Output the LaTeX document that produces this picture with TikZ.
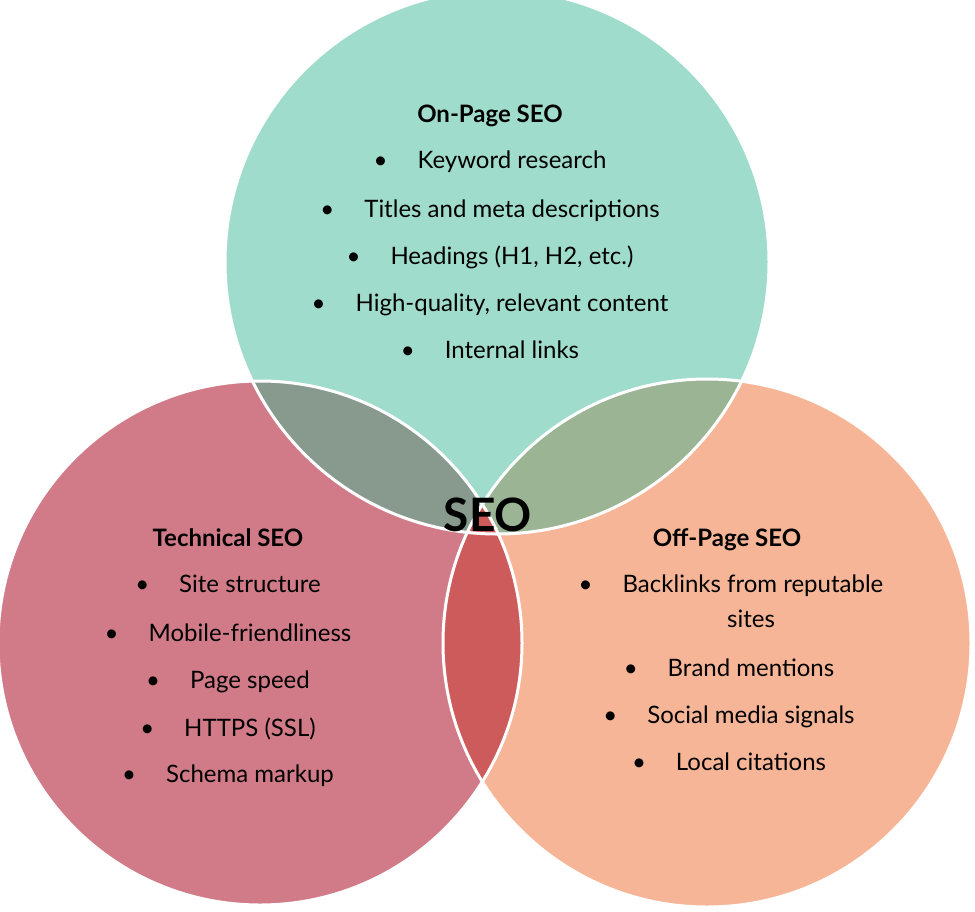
\documentclass[tikz,border=0pt]{standalone}
\usepackage{fontspec}
\setmainfont{Lato}
\definecolor{onpage}{HTML}{9FDCCB}
\definecolor{technical}{HTML}{D17B88}
\definecolor{offpage}{HTML}{F7B597}
\definecolor{ontech}{HTML}{88998E}
\definecolor{onoff}{HTML}{9BB594}
\definecolor{techoff}{HTML}{CD5B5B}
\newcommand{\itm}[1]{\textbullet\hspace{30pt}#1}

\begin{document}
\begin{tikzpicture}[x=1pt,y=-1pt,
    item/.style={font=\fontsize{24}{28}\selectfont, anchor=base},
    head/.style={font=\fontsize{24}{28}\selectfont\bfseries, anchor=base}]
  \useasboundingbox (0,0) rectangle (975,911);
  \coordinate (on) at (497,262);
  \coordinate (tech) at (260,643);
  \coordinate (off) at (707,643);
  % circles
  \fill[onpage] (on) circle (272);
  \fill[technical] (tech) circle (262);
  \fill[offpage] (off) circle (264);
  % overlaps
  \begin{scope}
    \clip (on) circle (272);
    \fill[ontech] (tech) circle (262);
    \fill[onoff] (off) circle (264);
  \end{scope}
  \begin{scope}
    \clip (tech) circle (262);
    \fill[techoff] (off) circle (264);
  \end{scope}
  \foreach \c/\r in {on/272, tech/262, off/264}
    \draw[white, line width=3pt] (\c) circle (\r);
  % texts
  \node[head] (onhead) at (490,122) {On-Page SEO};
  \foreach \y/\t [count=\i] in {168/Keyword research, 217/Titles and meta descriptions,
      264/{Headings (H1, H2, etc.)}, 311/{High-quality, relevant content}, 358/Internal links}
    \node[item] (on\i) at (490,\y) {\itm{\t}};
  \node[head] (techhead) at (228,546) {Technical SEO};
  \foreach \y/\t [count=\i] in {592/Site structure, 641/Mobile-friendliness,
      688/Page speed, 736/HTTPS (SSL), 782/Schema markup}
    \node[item] (tech\i) at (228,\y) {\itm{\t}};
  \node[head] (offhead) at (727,546) {Off-Page SEO};
  \node[item] (off1) at (731,592) {\itm{Backlinks from reputable}};
  \node[item] (off1b) at (751,627) {sites};
  \foreach \y/\t [count=\i from 2] in {676/Brand mentions, 723/Social media signals, 770/Local citations}
    \node[item] (off\i) at (729,\y) {\itm{\t}};
  \node[font=\fontsize{46}{50}\selectfont\bfseries, anchor=base] (seo) at (488,531) {SEO};
\end{tikzpicture}
\end{document}
